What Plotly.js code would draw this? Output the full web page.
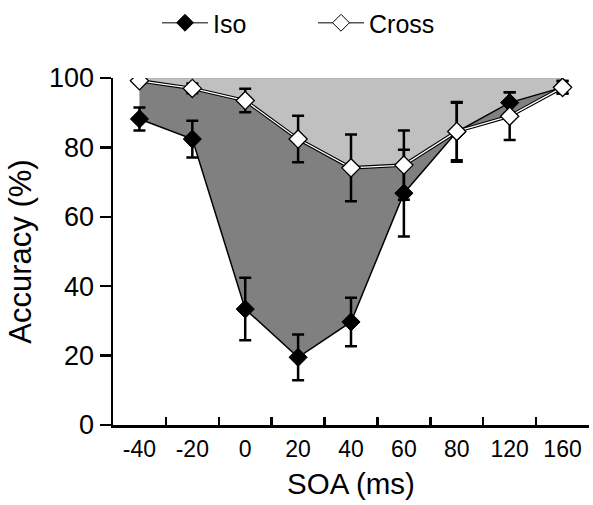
<!DOCTYPE html>
<html><head><meta charset="utf-8">
<script src="https://cdn.plot.ly/plotly-3.0.1.min.js"></script>
<style>html,body{margin:0;padding:0;background:#fff}</style>
</head><body>
<div id="chart" style="width:593px;height:505px"></div>
<script>
const soa = ['-40','-20','0','20','40','60','80','120','160'];
const isoAcc = [88.2, 82.4, 33.4, 19.5, 29.7, 66.8, 84.5, 92.9, 97.3];
const isoErr = [3.3, 5.3, 9.0, 6.6, 7.0, 12.5, 8.6, 3.0, 1.8];
const crossAcc = [99.2, 97.0, 93.5, 82.4, 74.1, 74.9, 84.6, 89.0, 97.3];
const crossErr = [0.8, 1.4, 3.4, 6.7, 9.6, 10.0, 8.3, 6.9, 1.8];
const yMax = 100;
const yTicks = [0, 20, 40, 60, 80, 100];

(function () {
const font = 'Liberation Sans, Arial, sans-serif';
const ceilLine = soa.map(() => yMax);

const traces = [
  {x: soa, y: ceilLine, mode: 'lines', line: {color: '#a8a8a8', width: 1}, showlegend: false, hoverinfo: 'skip'},
  {x: soa, y: crossAcc, mode: 'lines', fill: 'tonexty', fillcolor: '#c0c0c0', line: {width: 0}, showlegend: false, hoverinfo: 'skip'},
  {x: soa, y: isoAcc, mode: 'lines', fill: 'tonexty', fillcolor: '#808080', line: {width: 0}, showlegend: false, hoverinfo: 'skip'},
  {x: soa, y: isoAcc, mode: 'lines+markers', name: 'Iso', showlegend: false,
   line: {color: '#000', width: 1.5},
   marker: {symbol: 'diamond', size: 14, color: '#000', line: {color: '#000', width: 1}},
   error_y: {type: 'data', array: isoErr, visible: true, color: '#000', thickness: 2.5, width: 6}},
  {x: soa, y: crossAcc, mode: 'lines', line: {color: '#000', width: 3.5}, showlegend: false, hoverinfo: 'skip'},
  {x: soa, y: crossAcc, mode: 'lines+markers', name: 'Cross', showlegend: false,
   line: {color: '#fff', width: 1.3},
   marker: {symbol: 'diamond', size: 14, color: '#fff', line: {color: '#000', width: 1.3}},
   error_y: {type: 'data', array: crossErr, visible: true, color: '#000', thickness: 2.5, width: 6}},
  {x: [null], y: [null], mode: 'lines+markers', name: 'Iso', line: {color: '#555', width: 1.5},
   marker: {symbol: 'diamond', size: 13, color: '#000', line: {color: '#000', width: 1}}},
  {x: [null], y: [null], mode: 'lines+markers', name: 'Cross', line: {color: '#555', width: 1.5},
   marker: {symbol: 'diamond', size: 13, color: '#fff', line: {color: '#000', width: 1}}}
];

const layout = {
  width: 593, height: 505,
  margin: {l: 113, r: 4, t: 78, b: 80},
  paper_bgcolor: '#fff', plot_bgcolor: '#fff',
  font: {family: font, color: '#000', size: 20},
  showlegend: true,
  legend: {orientation: 'h', traceorder: 'normal', x: 157 / 593, xanchor: 'left', xref: 'container',
           y: 1 - 23 / 505, yanchor: 'middle', yref: 'container', itemwidth: 46,
           font: {size: 25, family: font}, entrywidth: 95, entrywidthmode: 'pixels',
           bgcolor: 'rgba(0,0,0,0)'},
  xaxis: {
    type: 'category', categoryorder: 'array', categoryarray: soa,
    range: [-0.5, soa.length - 0.5], tickson: 'boundaries',
    showline: true, linecolor: '#000', linewidth: 2.5,
    ticks: 'inside', ticklen: 8, tickwidth: 2.5, tickcolor: '#000',
    showgrid: false, zeroline: false, fixedrange: true,
    tickfont: {size: 23, family: font}, ticklabelstandoff: 2,
    title: {text: 'SOA (ms)', font: {size: 29.5, family: font}, standoff: 13}
  },
  yaxis: {
    range: [0, yMax], tickvals: yTicks,
    showline: true, linecolor: '#000', linewidth: 2.5,
    ticks: 'outside', ticklen: 11, tickwidth: 2.5, tickcolor: '#000',
    showgrid: false, zeroline: false, fixedrange: true,
    tickfont: {size: 27, family: font},
    title: {text: 'Accuracy (%)', font: {size: 31, family: font}, standoff: 8}
  }
};
Plotly.newPlot('chart', traces, layout, {displayModeBar: false, staticPlot: true});
})();
</script>
</body></html>
